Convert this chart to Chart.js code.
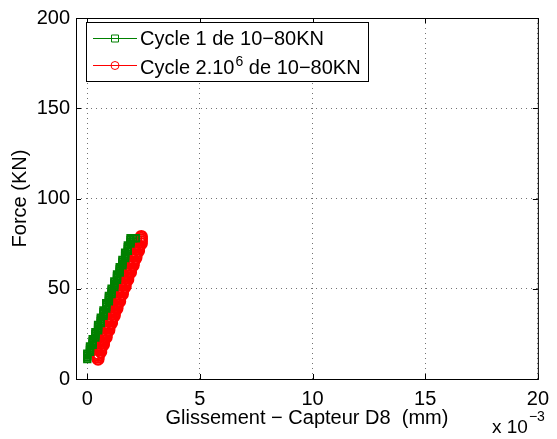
<!DOCTYPE html>
<html>
<head>
<meta charset="utf-8">
<script src="https://cdn.jsdelivr.net/npm/chart.js@4.4.1/dist/chart.umd.min.js"></script>
<style>
  html, body { margin: 0; padding: 0; background: #fff; }
  #wrap { width: 557px; height: 439px; position: relative; }
</style>
</head>
<body>
<div id="wrap"><canvas id="main-chart"></canvas></div>
<script>
// displacement in 1e-3 mm, force in KN (staircase readings)
const greenX = [
  0.00, 0.00, 0.00, 0.00, 0.12, 0.12, 0.12, 0.12, 0.24, 0.24, 0.24, 0.24,
  0.36, 0.36, 0.36, 0.36, 0.48, 0.48, 0.48, 0.48, 0.60, 0.60, 0.60, 0.60,
  0.72, 0.72, 0.72, 0.72, 0.84, 0.84, 0.84, 0.84, 0.96, 0.96, 0.96, 0.96,
  1.08, 1.08, 1.08, 1.08, 1.20, 1.20, 1.20, 1.20, 1.32, 1.32, 1.32, 1.32,
  1.44, 1.44, 1.44, 1.44, 1.56, 1.56, 1.56, 1.56, 1.68, 1.68, 1.68, 1.68,
  1.80, 1.80, 1.80, 1.80, 1.92, 1.92, 1.92, 1.92, 2.04, 2.16
];
const greenF = [
  11, 12, 13, 14, 15, 16, 17, 18, 19, 20, 21, 22,
  23, 24, 25, 26, 27, 28, 29, 30, 31, 32, 33, 34,
  35, 36, 37, 38, 39, 40, 41, 42, 43, 44, 45, 46,
  47, 48, 49, 50, 51, 52, 53, 54, 55, 56, 57, 58,
  59, 60, 61, 62, 63, 64, 65, 66, 67, 68, 69, 70,
  71, 72, 73, 74, 75, 76, 77, 78, 78, 78
];
const redX = [
  0.48, 0.48, 0.48, 0.48, 0.60, 0.60, 0.60, 0.60, 0.72, 0.72, 0.72, 0.72,
  0.84, 0.84, 0.84, 0.84, 0.96, 0.96, 0.96, 0.96, 1.08, 1.08, 1.08, 1.08,
  1.20, 1.20, 1.20, 1.20, 1.32, 1.32, 1.32, 1.32, 1.44, 1.44, 1.44, 1.44,
  1.56, 1.56, 1.56, 1.56, 1.68, 1.68, 1.68, 1.68, 1.80, 1.80, 1.80, 1.80,
  1.92, 1.92, 1.92, 1.92, 2.04, 2.04, 2.04, 2.04, 2.16, 2.16, 2.16, 2.16,
  2.28, 2.28, 2.28, 2.28, 2.40, 2.40, 2.40, 2.40, 2.40
];
const redF = [
  11, 12, 13, 14, 15, 16, 17, 18, 19, 20, 21, 22,
  23, 24, 25, 26, 27, 28, 29, 30, 31, 32, 33, 34,
  35, 36, 37, 38, 39, 40, 41, 42, 43, 44, 45, 46,
  47, 48, 49, 50, 51, 52, 53, 54, 55, 56, 57, 58,
  59, 60, 61, 62, 63, 64, 65, 66, 67, 68, 69, 70,
  71, 72, 73, 74, 75, 76, 77, 78, 79
];
const xTicks = [0, 5, 10, 15, 20];
const yTicks = [0, 50, 100, 150, 200];
const seriesNames = ["Cycle 1 de 10\u221280KN", "Cycle 2.10", "6", " de 10\u221280KN"];

const GREEN = "rgb(0,128,0)";
const RED = "rgb(255,0,0)";
const FONT = "'Liberation Sans', Arial, Helvetica, sans-serif";

const pts = (xs, ys) => xs.map((x, i) => ({ x: x, y: ys[i] }));

// axes box, inward ticks, legend and the x10^-3 multiplier
const matlabBits = {
  id: "matlabBits",
  afterDraw(chart) {
    const { ctx, chartArea: a, scales } = chart;
    ctx.save();
    ctx.strokeStyle = "#000";
    ctx.lineWidth = 1;
    ctx.strokeRect(a.left + 0.5, a.top + 0.5, a.right - a.left, a.bottom - a.top);
    ctx.beginPath();
    xTicks.forEach(v => {
      const px = Math.round(scales.x.getPixelForValue(v)) + 0.5;
      ctx.moveTo(px, a.bottom); ctx.lineTo(px, a.bottom - 5);
      ctx.moveTo(px, a.top); ctx.lineTo(px, a.top + 5);
    });
    yTicks.forEach(v => {
      const py = Math.round(scales.y.getPixelForValue(v)) + 0.5;
      ctx.moveTo(a.left, py); ctx.lineTo(a.left + 5, py);
      ctx.moveTo(a.right, py); ctx.lineTo(a.right - 5, py);
    });
    ctx.stroke();

    // legend
    const bx = 86.5, by = 22.5, bw = 282, bh = 59;
    ctx.fillStyle = "#fff";
    ctx.fillRect(bx, by, bw, bh);
    ctx.strokeRect(bx, by, bw, bh);
    const rows = [
      { y: 38, color: GREEN, marker: "square" },
      { y: 65, color: RED, marker: "circle" }
    ];
    rows.forEach(r => {
      ctx.strokeStyle = r.color;
      ctx.lineWidth = 1;
      ctx.beginPath();
      ctx.moveTo(93, r.y + 0.5); ctx.lineTo(137, r.y + 0.5);
      ctx.stroke();
      ctx.beginPath();
      if (r.marker === "square") ctx.rect(111.5, r.y - 3, 7, 7);
      else ctx.arc(115, r.y + 0.5, 4, 0, Math.PI * 2);
      ctx.stroke();
    });
    ctx.fillStyle = "#000";
    ctx.textBaseline = "alphabetic";
    ctx.textAlign = "left";
    ctx.font = "20px " + FONT;
    ctx.fillText(seriesNames[0], 140, 45);
    ctx.fillText(seriesNames[1], 140, 74);
    let w = ctx.measureText(seriesNames[1]).width;
    ctx.font = "14px " + FONT;
    ctx.fillText(seriesNames[2], 140 + w + 1, 66);
    const w2 = ctx.measureText(seriesNames[2]).width;
    ctx.font = "20px " + FONT;
    ctx.fillText(seriesNames[3], 140 + w + 1 + w2, 74);

    // x 10^-3
    ctx.font = "19px " + FONT;
    ctx.fillText("x 10", 492, 433);
    const w3 = ctx.measureText("x 10").width;
    ctx.font = "14px " + FONT;
    ctx.fillText("\u22123", 492 + w3 + 1, 421);
    ctx.restore();
  }
};

const config = {
  type: "line",
  data: {
    datasets: [{
      label: "Cycle 1 de 10\u221280KN",
      data: pts(greenX, greenF),
      borderColor: GREEN,
      backgroundColor: "rgba(0,0,0,0)",
      borderWidth: 1.5,
      pointStyle: "rect",
      pointRadius: 4.5,
      pointBorderWidth: 2,
      pointBorderColor: GREEN,
      pointBackgroundColor: "rgba(0,0,0,0)",
      tension: 0
    }, {
      label: "Cycle 2.10^6 de 10\u221280KN",
      data: pts(redX, redF),
      borderColor: RED,
      backgroundColor: "rgba(0,0,0,0)",
      borderWidth: 1.5,
      pointStyle: "circle",
      pointRadius: 5.5,
      pointBorderWidth: 2,
      pointBorderColor: RED,
      pointBackgroundColor: "rgba(0,0,0,0)",
      tension: 0
    }]
  },
  options: {
    responsive: false,
    animation: false,
    devicePixelRatio: 1,
    layout: { padding: { top: 16, right: 12, left: 0, bottom: 0 } },
    plugins: { legend: { display: false }, tooltip: { enabled: false } },
    scales: {
      x: {
        type: "linear",
        min: -0.5,
        max: 20,
        afterBuildTicks: s => { s.ticks = xTicks.map(v => ({ value: v })); },
        afterFit: s => { s.height = 60; },
        grid: { color: "rgba(0,0,0,0.55)", drawTicks: false, lineWidth: 1 },
        border: { display: false, dash: [1, 4] },
        ticks: { color: "#000", padding: 8, font: { family: FONT, size: 20 }, maxRotation: 0 },
        title: {
          display: true,
          text: "Glissement \u2212 Capteur D8  (mm)",
          color: "#000",
          font: { family: FONT, size: 20 },
          padding: { top: 0, bottom: 9 }
        }
      },
      y: {
        type: "linear",
        min: 0,
        max: 200,
        afterBuildTicks: s => { s.ticks = yTicks.map(v => ({ value: v })); },
        afterFit: s => { s.width = 76; },
        grid: { color: "rgba(0,0,0,0.55)", drawTicks: false, lineWidth: 1 },
        border: { display: false, dash: [1, 4] },
        ticks: { color: "#000", padding: 6, font: { family: FONT, size: 20 } },
        title: {
          display: true,
          text: "Force (KN)",
          color: "#000",
          font: { family: FONT, size: 20 },
          padding: { top: 8, bottom: 0 }
        }
      }
    }
  },
  plugins: [matlabBits]
};

const canvas = document.getElementById("main-chart");
canvas.width = 557;
canvas.height = 439;
const myChart = new Chart(canvas, config);
</script>
</body>
</html>
